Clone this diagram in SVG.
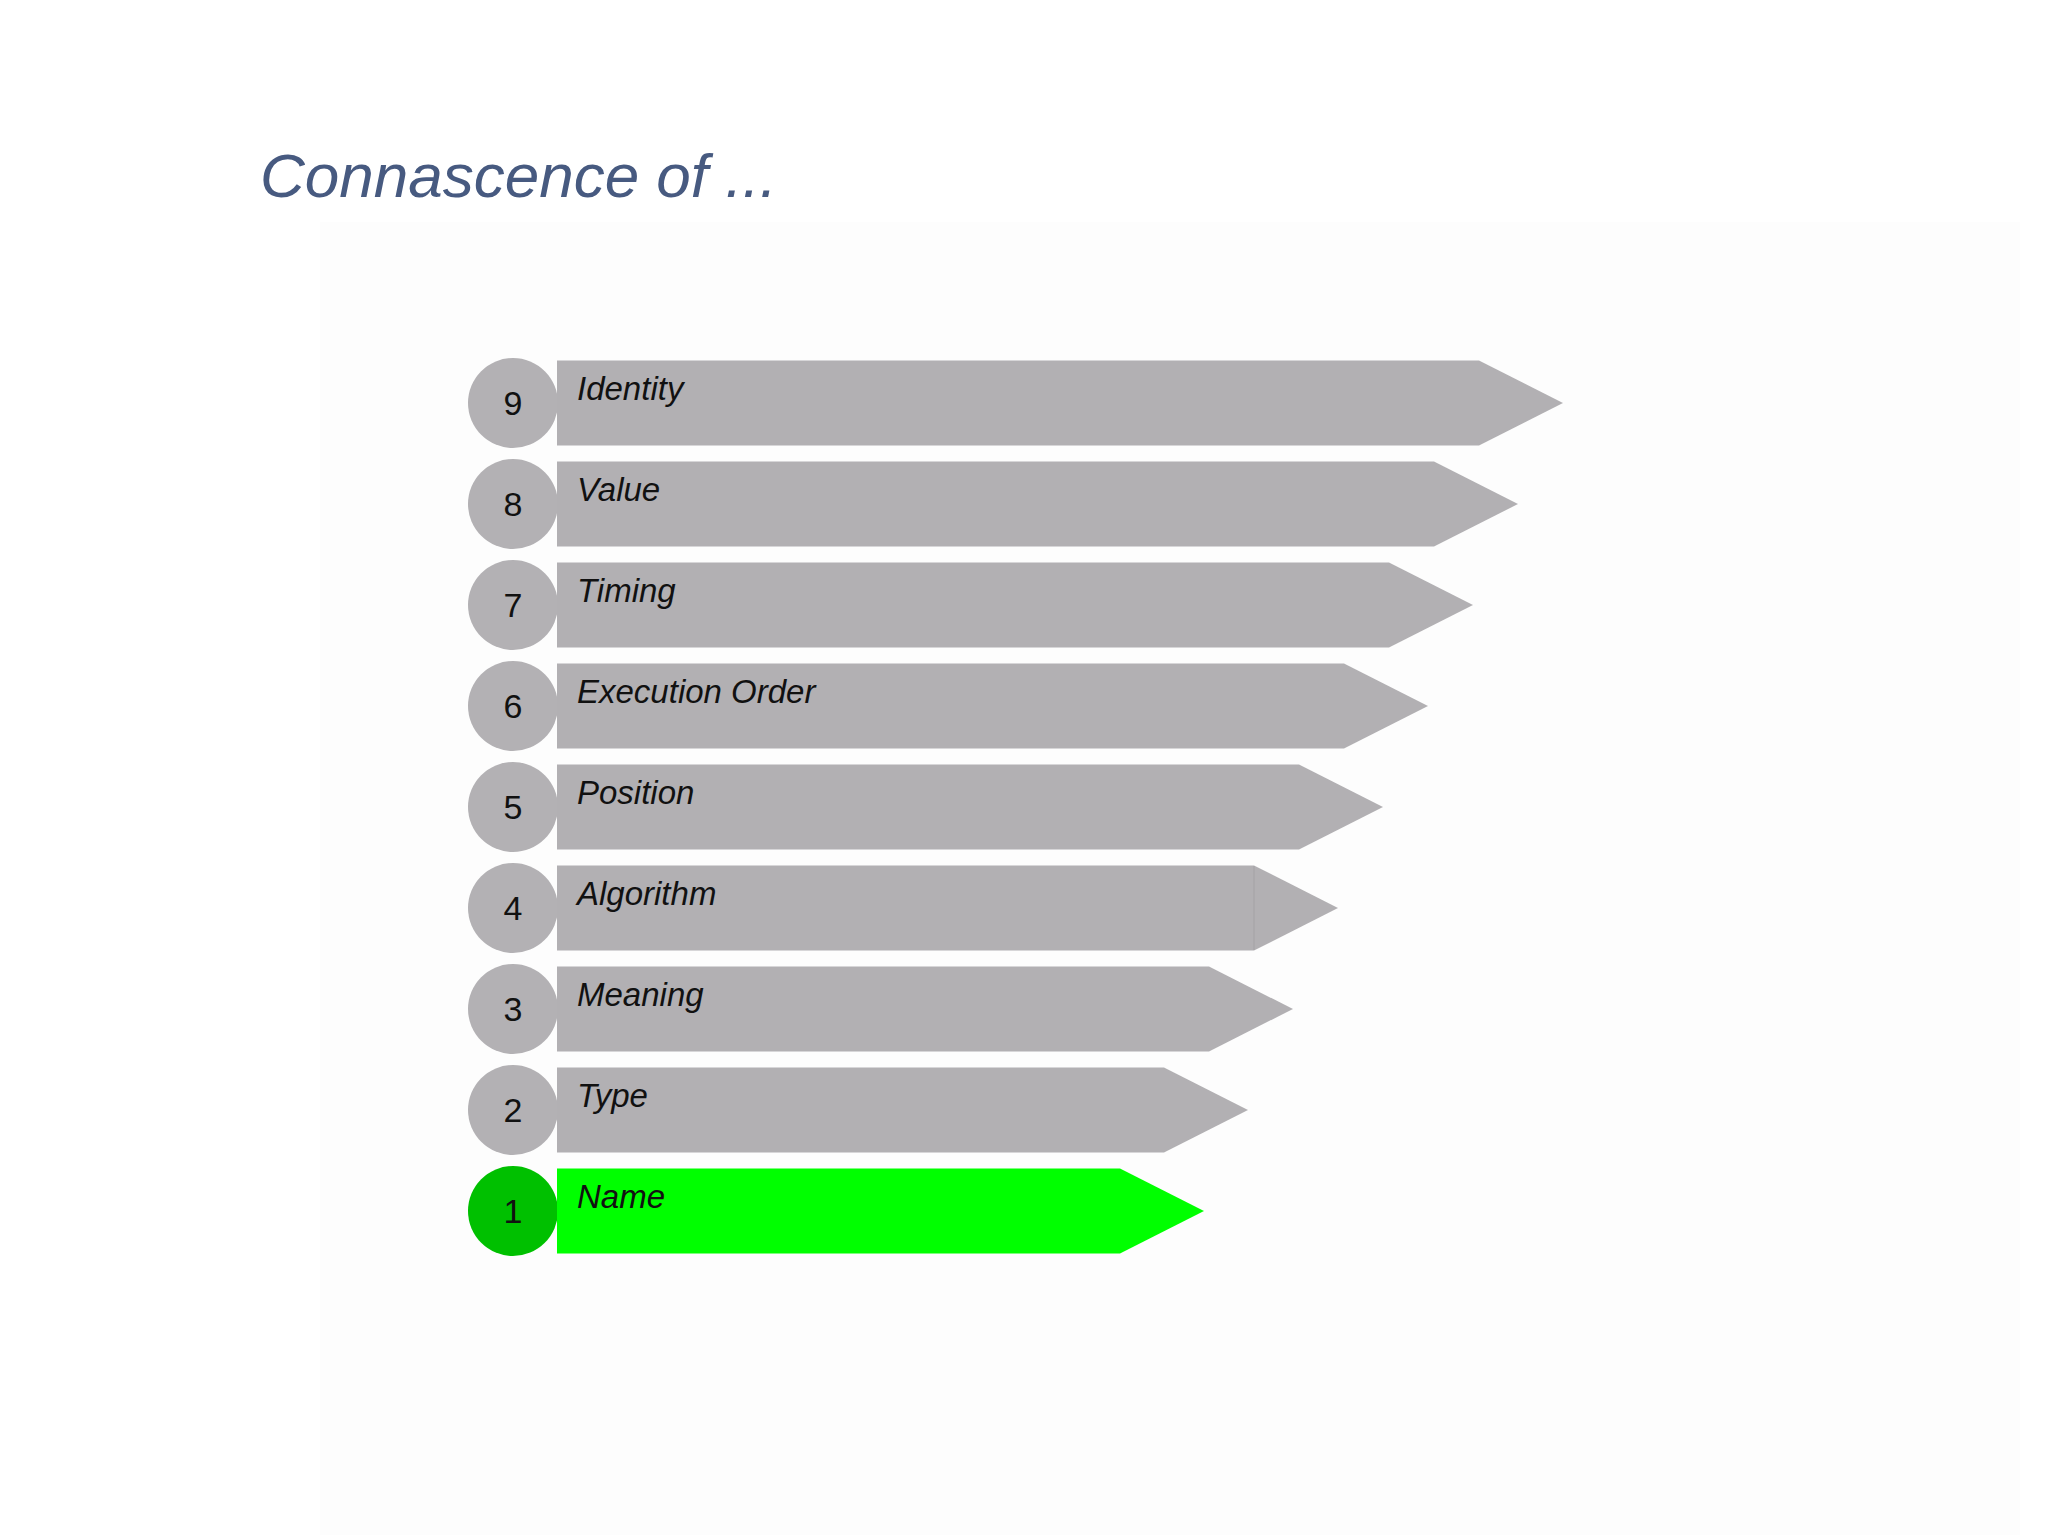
<svg xmlns="http://www.w3.org/2000/svg" width="2048" height="1535" viewBox="0 0 2048 1535">
<style>
.num{font-family:"Liberation Sans",Arial,sans-serif;font-size:34px;fill:#111;text-anchor:middle}
.lbl{font-family:"Liberation Sans",Arial,sans-serif;font-size:33px;font-style:italic;fill:#111}
.g{fill:#b2b0b3}
.gc{fill:#b3b1b4}
.title{font-family:"Liberation Sans",Arial,sans-serif;font-size:62px;font-style:italic;fill:#475a80}
</style>
<rect x="0" y="0" width="2048" height="1535" fill="#ffffff"/>
<rect x="320" y="222" width="1700" height="1313" fill="#fdfdfd"/>
<text class="title" x="260" y="197">Connascence of ...</text>
<g id="connectors"/>
<g id="row9"><circle class="gc" cx="513" cy="403" r="45"/><polygon class="g" points="557,360.5 1479,360.5 1563,403 1479,445.5 557,445.5"/><text class="num" x="513" y="415">9</text><text class="lbl" x="577" y="400">Identity</text></g>
<g id="row8"><circle class="gc" cx="513" cy="504" r="45"/><polygon class="g" points="557,461.5 1434,461.5 1518,504 1434,546.5 557,546.5"/><text class="num" x="513" y="516">8</text><text class="lbl" x="577" y="501">Value</text></g>
<g id="row7"><circle class="gc" cx="513" cy="605" r="45"/><polygon class="g" points="557,562.5 1389,562.5 1473,605 1389,647.5 557,647.5"/><text class="num" x="513" y="617">7</text><text class="lbl" x="577" y="602">Timing</text></g>
<g id="row6"><circle class="gc" cx="513" cy="706" r="45"/><polygon class="g" points="557,663.5 1344,663.5 1428,706 1344,748.5 557,748.5"/><text class="num" x="513" y="718">6</text><text class="lbl" x="577" y="703">Execution Order</text></g>
<g id="row5"><circle class="gc" cx="513" cy="807" r="45"/><polygon class="g" points="557,764.5 1299,764.5 1383,807 1299,849.5 557,849.5"/><text class="num" x="513" y="819">5</text><text class="lbl" x="577" y="804">Position</text></g>
<g id="row4"><circle class="gc" cx="513" cy="908" r="45"/><polygon class="g" points="557,865.5 1254,865.5 1338,908 1254,950.5 557,950.5"/><line x1="1254" y1="866" x2="1254" y2="950" stroke="#a9a7aa" stroke-width="1.5"/><text class="num" x="513" y="920">4</text><text class="lbl" x="577" y="905">Algorithm</text></g>
<g id="row3"><circle class="gc" cx="513" cy="1009" r="45"/><polygon class="g" points="557,966.5 1209,966.5 1293,1009 1209,1051.5 557,1051.5"/><text class="num" x="513" y="1021">3</text><text class="lbl" x="577" y="1006">Meaning</text></g>
<g id="row2"><circle class="gc" cx="513" cy="1110" r="45"/><polygon class="g" points="557,1067.5 1164,1067.5 1248,1110 1164,1152.5 557,1152.5"/><text class="num" x="513" y="1122">2</text><text class="lbl" x="577" y="1107">Type</text></g>
<g id="row1"><circle fill="#00c000" cx="513" cy="1211" r="45"/><polygon fill="#00ff00" points="557,1168.5 1120,1168.5 1204,1211 1120,1253.5 557,1253.5"/><text class="num" x="513" y="1223">1</text><text class="lbl" x="577" y="1208">Name</text></g>
</svg>
